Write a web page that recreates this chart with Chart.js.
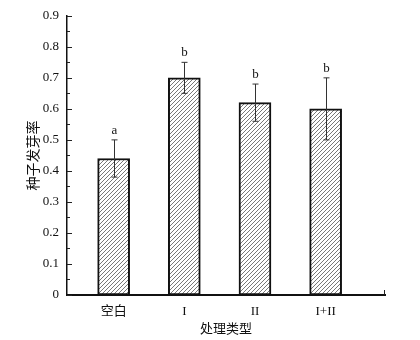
<!DOCTYPE html>
<html>
<head>
<meta charset="utf-8">
<script src="https://cdn.jsdelivr.net/npm/chart.js@4"></script>
<style>
body{margin:0;background:#fff;}
#wrap{width:420px;height:340px;position:relative;}
</style>
</head>
<body>
<div id="wrap"><canvas id="chart"></canvas></div>
<script>
// data
const categories = ['空白', 'I', 'II', 'I+II'];
const rates = [0.44, 0.70, 0.62, 0.60];
const errors = [0.06, 0.05, 0.06, 0.10];
const letters = ['a', 'b', 'b', 'b'];
const yTicks = [0, 0.1, 0.2, 0.3, 0.4, 0.5, 0.6, 0.7, 0.8, 0.9];

// hatch pattern for bars
function makeHatch(){
  let c = document.createElement('canvas');
  c.width = 4; c.height = 4;
  let g = c.getContext('2d');
  g.fillStyle = '#fff';
  g.fillRect(0, 0, 4, 4);
  g.strokeStyle = '#555';
  g.lineWidth = 0.8;
  g.beginPath();
  g.moveTo(0, 4); g.lineTo(4, 0);
  g.moveTo(-1, 1); g.lineTo(1, -1);
  g.moveTo(3, 5); g.lineTo(5, 3);
  g.stroke();
  return g.createPattern(c, 'repeat');
}

const serif = "'Liberation Serif', 'DejaVu Serif', serif";

// error bars, letters and inward ticks
const extras = {
  id: 'extras',
  afterDatasetsDraw(chart){
    let ctx = chart.ctx;
    let xs = chart.scales.x, ys = chart.scales.y;
    ctx.save();
    ctx.strokeStyle = '#333';
    ctx.lineWidth = 1;
    ctx.fillStyle = '#111';
    ctx.font = '13px ' + serif;
    ctx.textAlign = 'center';
    ctx.textBaseline = 'bottom';
    rates.forEach((v, i) => {
      let x = Math.round(xs.getPixelForValue(i + 1)) + 0.5;
      let yt = ys.getPixelForValue(v + errors[i]);
      let yb = ys.getPixelForValue(v - errors[i]);
      ctx.beginPath();
      ctx.moveTo(x, yt); ctx.lineTo(x, yb);
      ctx.moveTo(x - 3, yt); ctx.lineTo(x + 3, yt);
      ctx.moveTo(x - 3, yb); ctx.lineTo(x + 3, yb);
      ctx.stroke();
      ctx.fillText(letters[i], x, yt - 3);
    });
    ctx.restore();
  },
  afterDraw(chart){
    let ctx = chart.ctx;
    let ys = chart.scales.y, a = chart.chartArea;
    ctx.save();
    ctx.strokeStyle = '#222';
    ctx.lineWidth = 1;
    ctx.beginPath();
    for(let k = 0; k <= 18; k++){
      let y = Math.round(ys.getPixelForValue(k * 0.05)) + 0.5;
      let len = k % 2 === 0 ? 5 : 3;
      ctx.moveTo(a.left, y); ctx.lineTo(a.left + len, y);
    }
    ctx.moveTo(a.right - 0.5, a.bottom); ctx.lineTo(a.right - 0.5, a.bottom - 5);
    ctx.stroke();
    ctx.restore();
  }
};

new Chart(document.getElementById('chart'), {
  type: 'bar',
  data: {
    datasets: [{
      data: rates.map((v, i) => ({x: i + 1, y: v})),
      backgroundColor: makeHatch(),
      borderColor: '#111',
      borderWidth: 2,
      borderSkipped: false,
      barThickness: 32
    }]
  },
  options: {
    responsive: true,
    maintainAspectRatio: false,
    animation: false,
    layout: {padding: {top: 12, right: 35, left: 22, bottom: 0}},
    plugins: {legend: {display: false}, tooltip: {enabled: false}},
    scales: {
      x: {
        type: 'linear',
        offset: false,
        min: 0.34,
        max: 4.84,
        afterBuildTicks(s){ s.ticks = categories.map((c, i) => ({value: i + 1})); },
        afterFit(s){ s.height = 45; },
        grid: {display: false, drawTicks: false},
        border: {display: true, color: '#111', width: 2},
        ticks: {
          callback: (v) => categories[v - 1] || '',
          font: {family: serif + ", 'Noto Sans CJK SC'", size: 13},
          color: '#111',
          padding: 9,
          maxRotation: 0,
          autoSkip: false
        },
        title: {display: true, text: '处理类型', font: {family: "'Noto Sans CJK SC'", size: 13}, color: '#111', padding: {top: 0}}
      },
      y: {
        min: 0,
        max: 0.9,
        afterBuildTicks(s){ s.ticks = yTicks.map(v => ({value: v})); },
        afterFit(s){ s.width = 45; },
        grid: {display: false, drawTicks: false},
        border: {display: true, color: '#111', width: 1.5},
        ticks: {
          callback: (v) => v === 0 ? '0' : v.toFixed(1),
          font: {family: serif, size: 13},
          color: '#111',
          padding: 8
        },
        title: {display: true, text: '种子发芽率', font: {family: "'Noto Sans CJK SC'", size: 14}, color: '#111', padding: {top: 2, bottom: 2}}
      }
    }
  },
  plugins: [extras]
});
</script>
</body>
</html>
